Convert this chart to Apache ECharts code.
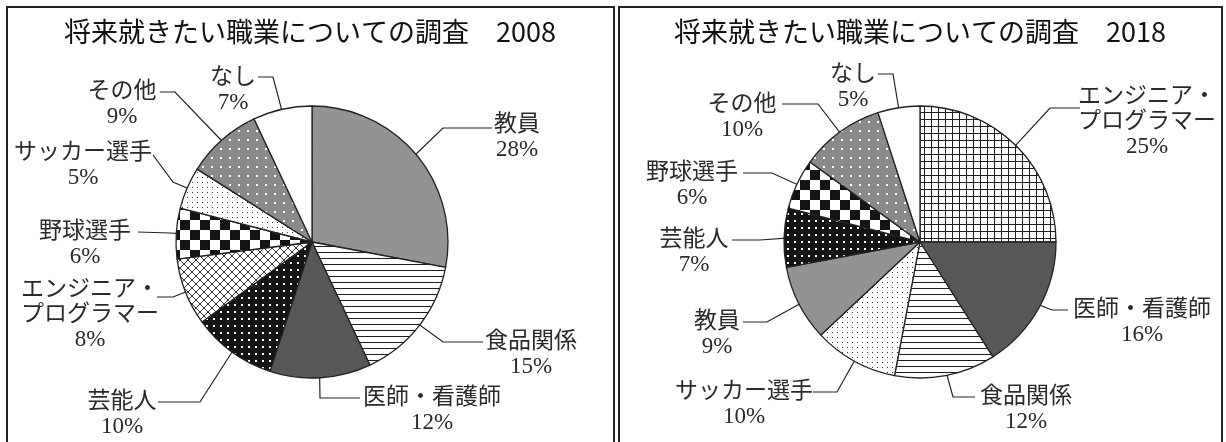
<!DOCTYPE html>
<html>
<head>
<meta charset="utf-8">
<script src="https://cdn.jsdelivr.net/npm/echarts@6/dist/echarts.min.js"></script>
<style>
  html, body { margin: 0; padding: 0; background: #fff; }
  #chart { width: 1226px; height: 442px; }
</style>
</head>
<body>
<div id="chart"></div>
<script>
// data (percent), clockwise from 12 o'clock
let names2008 = ['教員', '食品関係', '医師・看護師', '芸能人', 'エンジニア・\nプログラマー', '野球選手', 'サッカー選手', 'その他', 'なし'];
let values2008 = [28, 15, 12, 10, 8, 6, 5, 9, 7];
let names2018 = ['エンジニア・\nプログラマー', '医師・看護師', '食品関係', 'サッカー選手', '教員', '芸能人', '野球選手', 'その他', 'なし'];
let values2018 = [25, 16, 12, 10, 9, 7, 6, 10, 5];
let years = ['2008', '2018'];

let chart = echarts.init(document.getElementById('chart'));

function makePattern(size, draw) {
    let c = document.createElement('canvas');
    c.width = size;
    c.height = size;
    let ctx = c.getContext('2d');
    draw(ctx, size);
    return { image: c, repeat: 'repeat' };
}

let ink = '#1e1e1e';
let hLines = makePattern(6, function (ctx, s) {
    ctx.fillStyle = '#fff'; ctx.fillRect(0, 0, s, s);
    ctx.fillStyle = ink; ctx.fillRect(0, 0, s, 1);
});
let squareGrid = makePattern(7, function (ctx, s) {
    ctx.fillStyle = '#fff'; ctx.fillRect(0, 0, s, s);
    ctx.fillStyle = ink; ctx.fillRect(0, 0, s, 1); ctx.fillRect(0, 0, 1, s);
});
let diagGrid = makePattern(8, function (ctx, s) {
    ctx.fillStyle = '#fff'; ctx.fillRect(0, 0, s, s);
    ctx.strokeStyle = ink; ctx.lineWidth = 0.9;
    ctx.beginPath();
    ctx.moveTo(0, 0); ctx.lineTo(s, s);
    ctx.moveTo(0, s); ctx.lineTo(s, 0);
    ctx.stroke();
});
let checker = makePattern(20, function (ctx, s) {
    ctx.fillStyle = '#fff'; ctx.fillRect(0, 0, s, s);
    ctx.fillStyle = '#141414';
    ctx.fillRect(0, 0, s / 2, s / 2); ctx.fillRect(s / 2, s / 2, s / 2, s / 2);
});
let blackDots = makePattern(7, function (ctx, s) {
    ctx.fillStyle = '#141414'; ctx.fillRect(0, 0, s, s);
    ctx.fillStyle = '#fff'; ctx.fillRect(3, 3, 2, 2);
});
let smallDots = makePattern(5, function (ctx, s) {
    ctx.fillStyle = '#fff'; ctx.fillRect(0, 0, s, s);
    ctx.fillStyle = '#333'; ctx.fillRect(2, 2, 1, 1);
});
let grayDots = makePattern(9, function (ctx, s) {
    ctx.fillStyle = '#8a8a8a'; ctx.fillRect(0, 0, s, s);
    ctx.fillStyle = '#fff'; ctx.fillRect(4, 4, 2, 2);
});

function fillsFor(engineerFill) {
    return {
        '教員': '#939393',
        '食品関係': hLines,
        '医師・看護師': '#575757',
        '芸能人': blackDots,
        'エンジニア・\nプログラマー': engineerFill,
        '野球選手': checker,
        'サッカー選手': smallDots,
        'その他': grayDots,
        'なし': '#ffffff'
    };
}

// label placement: text centre x, first line centre y, leader start and elbow, tip radius factor
let spots2008 = {
    '教員': { x: 517, y: 125, start: [492, 128], elbow: [443, 128] },
    '食品関係': { x: 531, y: 342, start: [483, 342], elbow: [443, 342] },
    '医師・看護師': { x: 432, y: 398, start: [360, 398], elbow: [320, 398] },
    '芸能人': { x: 122, y: 402, start: [158, 402], elbow: [200, 402], f: 1.0 },
    'エンジニア・\nプログラマー': { x: 90, y: 290, start: [157, 297], elbow: [173, 297] },
    '野球選手': { x: 85, y: 232, start: [138, 232], elbow: [170, 233] },
    'サッカー選手': { x: 83, y: 153, start: [153, 155], elbow: [173, 182] },
    'その他': { x: 122, y: 92, start: [160, 92], elbow: [175, 92] },
    'なし': { x: 233, y: 78, start: [258, 77], elbow: [273, 77] }
};
let spots2018 = {
    'エンジニア・\nプログラマー': { x: 1147, y: 97, start: [1080, 108], elbow: [1050, 108] },
    '医師・看護師': { x: 1142, y: 310, start: [1068, 310], elbow: [1052, 310] },
    '食品関係': { x: 1026, y: 397, start: [975, 397], elbow: [953, 397] },
    'サッカー選手': { x: 744, y: 392, start: [813, 392], elbow: [837, 392] },
    '教員': { x: 717, y: 322, start: [743, 322], elbow: [767, 322] },
    '芸能人': { x: 694, y: 240, start: [732, 240], elbow: [760, 240], f: 0.96 },
    '野球選手': { x: 692, y: 173, start: [743, 173], elbow: [772, 173] },
    'その他': { x: 742, y: 105, start: [782, 104], elbow: [818, 104] },
    'なし': { x: 853, y: 75, start: [878, 74], elbow: [893, 74] }
};

let radius = 136;
let lineH = 25;
let labelFont = '"Liberation Serif", "Noto Sans CJK JP", serif';

function buildPie(names, values, center, spots, engineerFill) {
    let fills = fillsFor(engineerFill);
    let total = values.reduce(function (a, b) { return a + b; }, 0);
    let mids = [];
    let acc = 0;
    for (let i = 0; i < values.length; i++) {
        mids.push((acc + values[i] / 2) / total * Math.PI * 2);
        acc += values[i];
    }
    return {
        type: 'pie',
        center: center,
        radius: radius,
        startAngle: 90,
        clockwise: true,
        avoidLabelOverlap: false,
        animation: false,
        silent: true,
        itemStyle: { borderColor: '#222', borderWidth: 1.3 },
        label: {
            show: true,
            position: 'outside',
            formatter: '{b}\n{c}%',
            fontFamily: labelFont,
            fontSize: 23,
            lineHeight: lineH,
            color: '#2a2a2a',
            align: 'center'
        },
        labelLine: { show: true, lineStyle: { color: '#222', width: 1.2 } },
        labelLayout: function (params) {
            let name = names[params.dataIndex];
            let s = spots[name];
            let a = mids[params.dataIndex];
            let f = s.f || 0.86;
            let tip = [center[0] + Math.sin(a) * radius * f, center[1] - Math.cos(a) * radius * f];
            return {
                x: s.x,
                y: s.y - lineH / 2,
                align: 'center',
                verticalAlign: 'top',
                labelLinePoints: [tip, s.elbow, s.start]
            };
        },
        data: names.map(function (n, i) {
            return { name: n, value: values[i], itemStyle: { color: fills[n] } };
        })
    };
}

let titleStyle = {
    fontFamily: '"Noto Sans CJK JP", "Noto Sans", sans-serif',
    fontSize: 27,
    fontWeight: 'normal',
    color: '#111'
};

let option = {
    backgroundColor: '#fff',
    title: [
        { text: '将来就きたい職業についての調査　' + years[0], left: 310, top: 18, padding: 0, textAlign: 'center', textStyle: titleStyle },
        { text: '将来就きたい職業についての調査　' + years[1], left: 920, top: 18, padding: 0, textAlign: 'center', textStyle: titleStyle }
    ],
    graphic: [
        { type: 'rect', shape: { x: 7, y: 7, width: 607, height: 436 }, style: { fill: 'none', stroke: '#222', lineWidth: 2 } },
        { type: 'rect', shape: { x: 619, y: 7, width: 603, height: 436 }, style: { fill: 'none', stroke: '#222', lineWidth: 2 } }
    ],
    series: [
        buildPie(names2008, values2008, [312, 242], spots2008, diagGrid),
        buildPie(names2018, values2018, [920, 242], spots2018, squareGrid)
    ]
};

chart.setOption(option);
</script>
</body>
</html>
